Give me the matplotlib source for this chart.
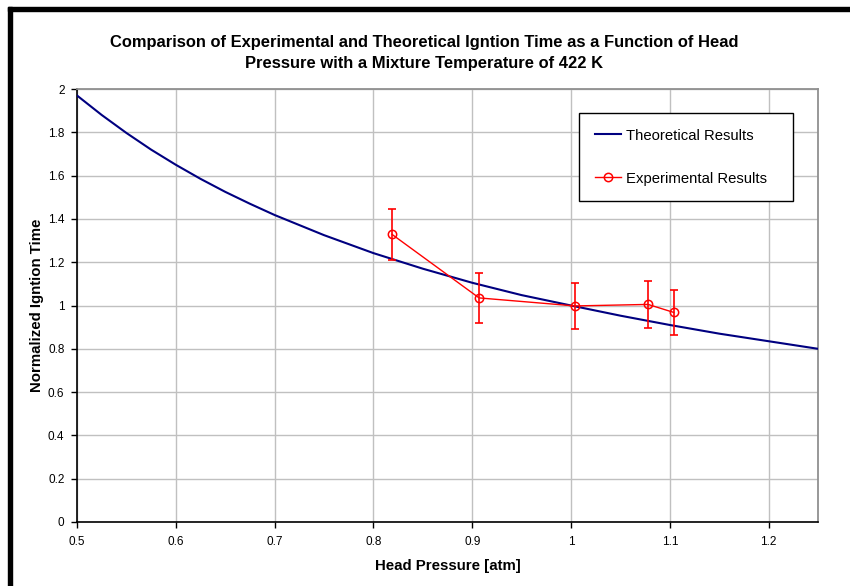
import matplotlib
matplotlib.use("Agg")
import matplotlib.pyplot as plt
from matplotlib.patches import Rectangle

plt.rcParams["font.family"] = ["Liberation Sans", "DejaVu Sans"]

# theoretical curve
theory_p = [0.5, 0.525, 0.55, 0.575, 0.6, 0.625, 0.65, 0.675, 0.7, 0.75, 0.8,
            0.85, 0.9, 0.95, 1.0, 1.05, 1.1, 1.15, 1.2, 1.25]
theory_t = [1.97, 1.88, 1.797, 1.72, 1.65, 1.585, 1.525, 1.47, 1.418, 1.325, 1.242,
            1.17, 1.105, 1.048, 1.0, 0.953, 0.91, 0.87, 0.835, 0.80]

# experimental points with error bars
exp_p = [0.819, 0.907, 1.004, 1.078, 1.104]
exp_t = [1.328, 1.035, 0.998, 1.005, 0.968]
exp_err = [0.118, 0.114, 0.106, 0.108, 0.105]

title = ("Comparison of Experimental and Theoretical Igntion Time as a Function of Head\n"
         "Pressure with a Mixture Temperature of 422 K")
xticks = [0.5, 0.6, 0.7, 0.8, 0.9, 1.0, 1.1, 1.2]
xtick_labels = ["0.5", "0.6", "0.7", "0.8", "0.9", "1", "1.1", "1.2"]
yticks = [0, 0.2, 0.4, 0.6, 0.8, 1.0, 1.2, 1.4, 1.6, 1.8, 2.0]
ytick_labels = ["0", "0.2", "0.4", "0.6", "0.8", "1", "1.2", "1.4", "1.6", "1.8", "2"]

W, H = 850, 586
fig = plt.figure(figsize=(W / 100, H / 100), dpi=100)
ax = fig.add_axes([77 / W, 1 - 522 / H, (818 - 77) / W, (522 - 89) / H])

ax.plot(theory_p, theory_t, color="#000080", lw=1.5, label="Theoretical Results", zorder=3)
ax.errorbar(exp_p, exp_t, yerr=exp_err, fmt="none", ecolor="#ff0000", elinewidth=1.2,
            capsize=3, capthick=1.2, zorder=4)
ax.plot(exp_p, exp_t, color="#ff0000", lw=1, marker="o", ms=6, mfc="none",
        mec="#ff0000", mew=1.1, label="Experimental Results", zorder=5)

ax.set_xlim(0.5, 1.25)
ax.set_ylim(0, 2)
ax.set_xticks(xticks, xtick_labels)
ax.set_yticks(yticks, ytick_labels)
ax.grid(True, color="#c0c0c0", lw=1)
ax.set_axisbelow(True)
for side in ["top", "right"]:
    ax.spines[side].set_color("#909090")
    ax.spines[side].set_linewidth(1.3)
for side in ["left", "bottom"]:
    ax.spines[side].set_color("black")
    ax.spines[side].set_linewidth(1.2)
ax.tick_params(direction="out", length=4, width=1, labelsize=8.5, pad=5)
ax.tick_params(axis="x", pad=6)

ax.set_xlabel("Head Pressure [atm]", fontsize=10.8, fontweight="bold", labelpad=8)
ax.set_ylabel("Normalized Igntion Time", fontsize=10.8, fontweight="bold", labelpad=3)
fig.text(424 / W, 1 - 53 / H, title, ha="center", va="center",
         fontsize=11.9, fontweight="bold", linespacing=1.45)

leg = ax.legend(loc="upper left", bbox_to_anchor=(579 / W, 1 - 113 / H, (793 - 579) / W, 0),
                bbox_transform=fig.transFigure, mode="expand", fontsize=10.7,
                frameon=True, fancybox=False, framealpha=1, edgecolor="black",
                labelspacing=1.95, handlelength=1.8, handletextpad=0.3, borderpad=1.05,
                borderaxespad=0)
leg.get_frame().set_linewidth(1)

# black frame of the chart area (top and left)
fig.patches.append(Rectangle((8 / W, 0), 4 / W, 1 - 7 / H, transform=fig.transFigure,
                             color="black", zorder=10))
fig.patches.append(Rectangle((8 / W, 1 - 11 / H), 1 - 8 / W, 4 / H, transform=fig.transFigure,
                             color="black", zorder=10))

fig.savefig("out.png", dpi=100)
